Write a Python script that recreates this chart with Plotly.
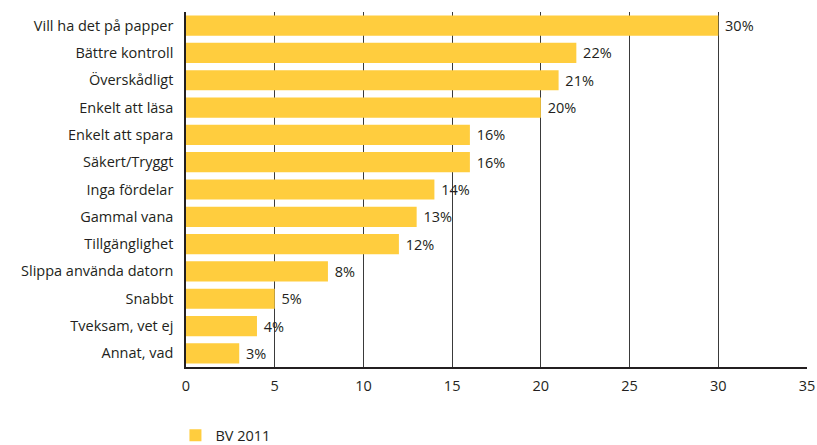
import plotly.graph_objects as go

categories = ["Vill ha det på papper", "Bättre kontroll", "Överskådligt", "Enkelt att läsa",
              "Enkelt att spara", "Säkert/Tryggt", "Inga fördelar", "Gammal vana",
              "Tillgänglighet", "Slippa använda datorn", "Snabbt", "Tveksam, vet ej", "Annat, vad"]
values = [30, 22, 21, 20, 16, 16, 14, 13, 12, 8, 5, 4, 3]
series_name = "BV 2011"
tick_vals = [0, 5, 10, 15, 20, 25, 30, 35]

fig = go.Figure()
fig.add_trace(go.Bar(
    y=categories, x=values, orientation="h", name=series_name,
    marker=dict(color="#FFCD3E", line=dict(width=0)),
    texttemplate=" %{x}%", textposition="outside",
    textfont=dict(size=14.5, color="#231F20"),
    cliponaxis=False, width=0.74,
))
fig.update_layout(
    width=817, height=445,
    margin=dict(l=186, r=10, t=12, b=78, autoexpand=False),
    paper_bgcolor="white", plot_bgcolor="white",
    font=dict(family="Open Sans", size=14.5, color="#231F20"),
    showlegend=True,
    legend=dict(x=-0.017, y=0.022, xref="paper", yref="container", xanchor="left", yanchor="middle",
                font=dict(size=14.5), itemwidth=30, bgcolor="rgba(0,0,0,0)"),
    bargap=0.26,
)
fig.update_xaxes(range=[0, 35], tickvals=tick_vals, showgrid=True, gridcolor="#3a3a3a",
                 gridwidth=1.3, zeroline=False, showline=True, linecolor="#231F20",
                 linewidth=1.5, ticks="", ticklen=0, tickfont=dict(size=14.5),
                 ticklabelstandoff=5, automargin=False)
fig.update_yaxes(autorange="reversed", showline=True, linecolor="#231F20", linewidth=1.5,
                 ticks="", ticklabelstandoff=8, showgrid=False, tickfont=dict(size=14.5),
                 automargin=False)
fig.write_html("out.html")
